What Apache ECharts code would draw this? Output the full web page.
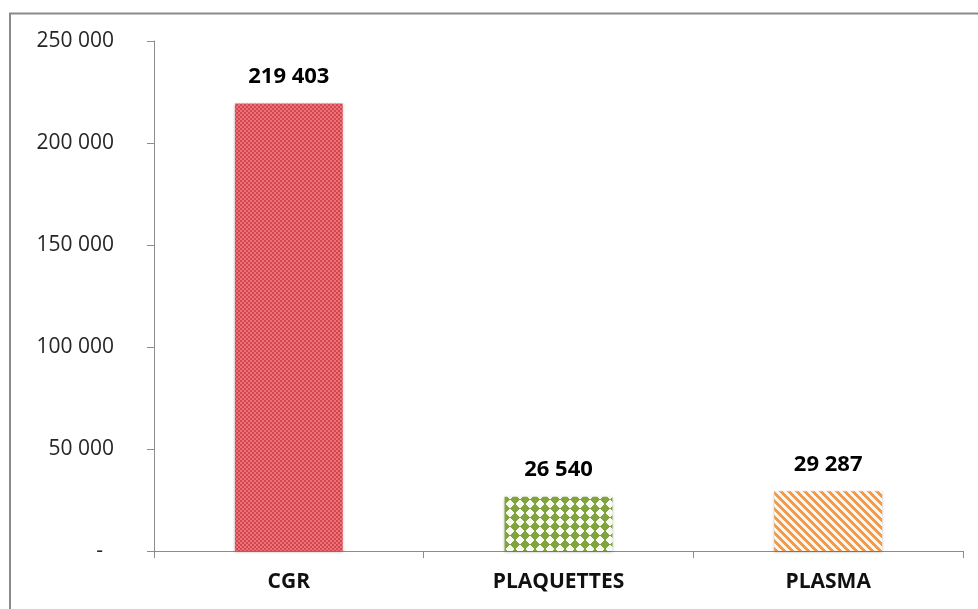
<!DOCTYPE html>
<html>
<head>
<meta charset="utf-8">
<script src="https://cdn.jsdelivr.net/npm/echarts@6/dist/echarts.min.js"></script>
<style>
  html, body { margin: 0; padding: 0; background: #ffffff; }
  #chart { width: 978px; height: 609px; }
</style>
</head>
<body>
<div id="chart"></div>
<script>
// Blood products delivered, by product type
var categories = ['CGR', 'PLAQUETTES', 'PLASMA'];
var values = [219403, 26540, 29287];
var axisMax = 250000;
var axisStep = 50000;

function fmt(v) {
  return String(v).replace(/\B(?=(\d{3})+(?!\d))/g, ' ');
}

function hex(c) {
  return [parseInt(c.slice(1, 3), 16), parseInt(c.slice(3, 5), 16), parseInt(c.slice(5, 7), 16)];
}

// Build a small tile by deciding each pixel's colour
function tile(w, h, pick) {
  var cv = document.createElement('canvas');
  cv.width = w; cv.height = h;
  var ctx = cv.getContext('2d');
  var img = ctx.createImageData(w, h);
  for (var y = 0; y < h; y++) {
    for (var x = 0; x < w; x++) {
      var c = hex(pick(x, y));
      var i = (y * w + x) * 4;
      img.data[i] = c[0]; img.data[i + 1] = c[1]; img.data[i + 2] = c[2]; img.data[i + 3] = 255;
    }
  }
  ctx.putImageData(img, 0, 0);
  return cv;
}

// fine red checker
var redTile = tile(4, 4, function (x, y) {
  return ((Math.floor(x / 2) + Math.floor(y / 2)) % 2 === 0) ? '#d4464e' : '#ea7379';
});
// green diamonds on white
var greenTile = tile(10, 9, function (x, y) {
  var dx = Math.abs(x + 0.5 - 5) / 5.3, dy = Math.abs(y + 0.5 - 4.5) / 4.9;
  return (dx + dy <= 1) ? '#80a43e' : '#f8faf2';
});
// orange diagonal stripes
var orangeTile = tile(8, 8, function (x, y) {
  return (((x - y) % 8 + 8) % 8) < 4 ? '#ef9a4c' : '#fdf6ee';
});

var fills = [redTile, greenTile, orangeTile];

var chart = echarts.init(document.getElementById('chart'), null, { renderer: 'canvas' });
chart.setOption({
  animation: false,
  backgroundColor: '#ffffff',
  grid: { left: 154, right: 15, top: 41, bottom: 58, containLabel: false },
  graphic: [{
    type: 'rect',
    shape: { x: 10, y: 13.5, width: 1000, height: 700 },
    style: { fill: 'none', stroke: '#8a8a8a', lineWidth: 2 },
    silent: true
  }],
  xAxis: {
    type: 'category',
    data: categories,
    axisLine: { lineStyle: { color: '#8c8c8c', width: 1 } },
    axisTick: { show: true, length: 7, lineStyle: { color: '#8c8c8c' } },
    axisLabel: {
      margin: 21,
      color: '#111111',
      fontFamily: 'Open Sans',
      fontWeight: 'bold',
      fontSize: 21,
      lineHeight: 21
    }
  },
  yAxis: {
    type: 'value',
    min: 0,
    max: axisMax,
    interval: axisStep,
    splitLine: { show: false },
    axisLine: { show: true, lineStyle: { color: '#8c8c8c', width: 1 } },
    axisTick: { show: true, length: 7, lineStyle: { color: '#8c8c8c' } },
    axisLabel: {
      margin: 40,
      color: '#262626',
      fontFamily: 'Open Sans',
      fontSize: 21,
      formatter: function (v) { return v === 0 ? '-  ' : fmt(v); }
    }
  },
  series: [{
    type: 'bar',
    barWidth: '40%',
    data: values.map(function (v, i) {
      return {
        value: v,
        itemStyle: {
          color: { image: fills[i], repeat: 'repeat' },
          shadowColor: 'rgba(0,0,0,0.25)',
          shadowBlur: 3,
          shadowOffsetY: 1
        }
      };
    }),
    label: {
      show: true,
      position: 'top',
      distance: 16,
      color: '#000000',
      fontFamily: 'Open Sans',
      fontWeight: 'bold',
      fontSize: 22,
      lineHeight: 22,
      formatter: function (p) { return fmt(p.value); }
    }
  }]
});
</script>
</body>
</html>
